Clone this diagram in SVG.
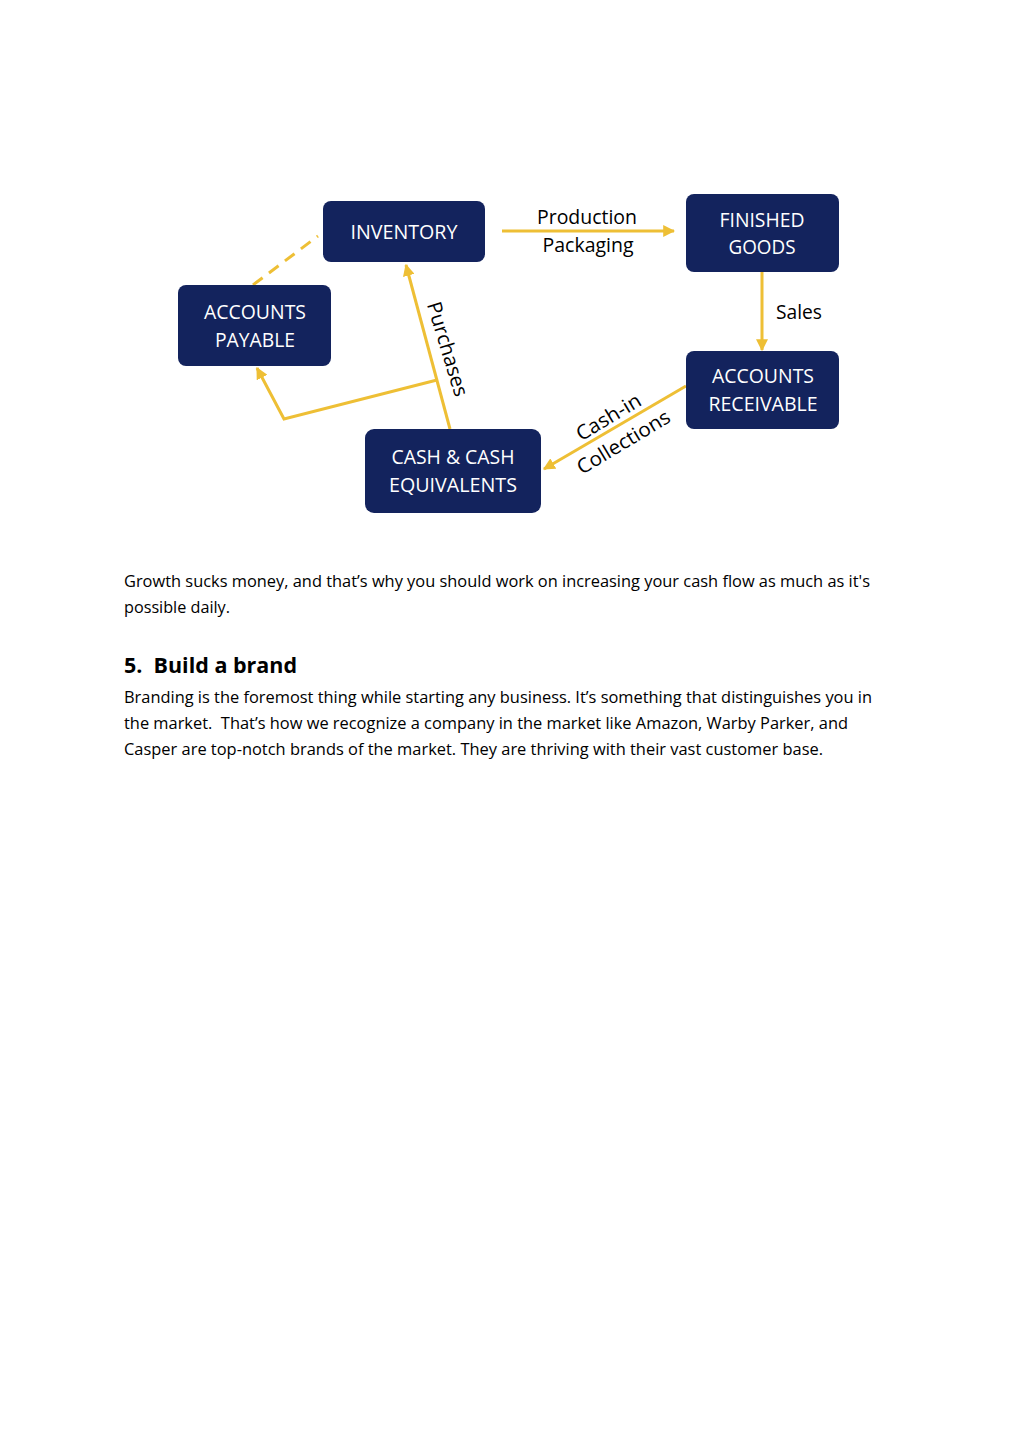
<svg xmlns="http://www.w3.org/2000/svg" width="1024" height="1446" viewBox="0 0 1024 1446">
<style>
.box{fill:#13235d;}
.bt{font-family:"Open Sans","Liberation Sans",sans-serif;font-size:20px;fill:#ffffff;text-anchor:middle;}
.lt{font-family:"Open Sans","Liberation Sans",sans-serif;font-size:20px;fill:#000000;text-anchor:middle;}
.con{stroke:#eebf35;stroke-width:3;fill:none;}
.body{font-family:"Open Sans","Liberation Sans",sans-serif;font-size:16.5px;fill:#000000;}
.h{font-family:"Open Sans","Liberation Sans",sans-serif;font-size:22px;font-weight:bold;fill:#000000;white-space:pre;}
</style>
<defs>
<marker id="ah" viewBox="0 0 10 10" refX="9" refY="5" markerWidth="4" markerHeight="4" orient="auto" markerUnits="strokeWidth">
<path d="M0,0 L10,5 L0,10 z" fill="#eebf35"/>
</marker>
</defs>
<rect width="1024" height="1446" fill="#ffffff"/>
<g id="connectors">
<line class="con" x1="502" y1="231" x2="674" y2="231" marker-end="url(#ah)"/>
<line class="con" x1="762" y1="272" x2="762" y2="350" marker-end="url(#ah)"/>
<line class="con" x1="686" y1="386" x2="544" y2="469" marker-end="url(#ah)"/>
<line class="con" x1="450" y1="429" x2="406" y2="265" marker-end="url(#ah)"/>
<polyline class="con" points="437,380 284,419 257,368" marker-end="url(#ah)"/>
<line class="con" x1="253" y1="285" x2="318" y2="236" stroke-dasharray="12,8"/>
<text class="lt" x="587" y="224" textLength="100" lengthAdjust="spacingAndGlyphs">Production</text>
<text class="lt" x="588" y="252" textLength="91" lengthAdjust="spacingAndGlyphs">Packaging</text>
<text class="lt" x="799" y="319" textLength="46" lengthAdjust="spacingAndGlyphs">Sales</text>
<text class="lt" transform="translate(441,351) rotate(73)" textLength="98" lengthAdjust="spacingAndGlyphs">Purchases</text>
<text class="lt" transform="translate(612,423) rotate(-31)" textLength="72" lengthAdjust="spacingAndGlyphs">Cash-in</text>
<text class="lt" transform="translate(627,448) rotate(-31)" textLength="105" lengthAdjust="spacingAndGlyphs">Collections</text>
</g>
<g id="inventory">
<rect class="box" x="323" y="201" width="162" height="61" rx="8"/>
<text class="bt" x="404" y="239" textLength="107" lengthAdjust="spacingAndGlyphs">INVENTORY</text>
</g>
<g id="finished-goods">
<rect class="box" x="686" y="194" width="153" height="78" rx="8"/>
<text class="bt" x="762" y="227" textLength="85" lengthAdjust="spacingAndGlyphs">FINISHED</text>
<text class="bt" x="762" y="254" textLength="67" lengthAdjust="spacingAndGlyphs">GOODS</text>
</g>
<g id="accounts-payable">
<rect class="box" x="178" y="285" width="153" height="81" rx="8"/>
<text class="bt" x="255" y="319" textLength="102" lengthAdjust="spacingAndGlyphs">ACCOUNTS</text>
<text class="bt" x="255" y="347" textLength="80" lengthAdjust="spacingAndGlyphs">PAYABLE</text>
</g>
<g id="accounts-receivable">
<rect class="box" x="686" y="351" width="153" height="78" rx="8"/>
<text class="bt" x="763" y="383" textLength="102" lengthAdjust="spacingAndGlyphs">ACCOUNTS</text>
<text class="bt" x="763" y="411" textLength="109" lengthAdjust="spacingAndGlyphs">RECEIVABLE</text>
</g>
<g id="cash">
<rect class="box" x="365" y="429" width="176" height="84" rx="9"/>
<text class="bt" x="453" y="464" textLength="123" lengthAdjust="spacingAndGlyphs">CASH &amp; CASH</text>
<text class="bt" x="453" y="492" textLength="128" lengthAdjust="spacingAndGlyphs">EQUIVALENTS</text>
</g>
<g id="text">
<text class="body" x="124" y="587" textLength="746" lengthAdjust="spacingAndGlyphs">Growth sucks money, and that’s why you should work on increasing your cash flow as much as it's</text>
<text class="body" x="124" y="613" textLength="106" lengthAdjust="spacingAndGlyphs">possible daily.</text>
<text class="h" x="124" y="673" textLength="173" lengthAdjust="spacingAndGlyphs" xml:space="preserve">5.  Build a brand</text>
<text class="body" x="124" y="703" textLength="748" lengthAdjust="spacingAndGlyphs">Branding is the foremost thing while starting any business. It’s something that distinguishes you in</text>
<text class="body" x="124" y="729" textLength="724" lengthAdjust="spacingAndGlyphs" xml:space="preserve">the market.  That’s how we recognize a company in the market like Amazon, Warby Parker, and</text>
<text class="body" x="124" y="755" textLength="699" lengthAdjust="spacingAndGlyphs">Casper are top-notch brands of the market. They are thriving with their vast customer base.</text>
</g>
</svg>
